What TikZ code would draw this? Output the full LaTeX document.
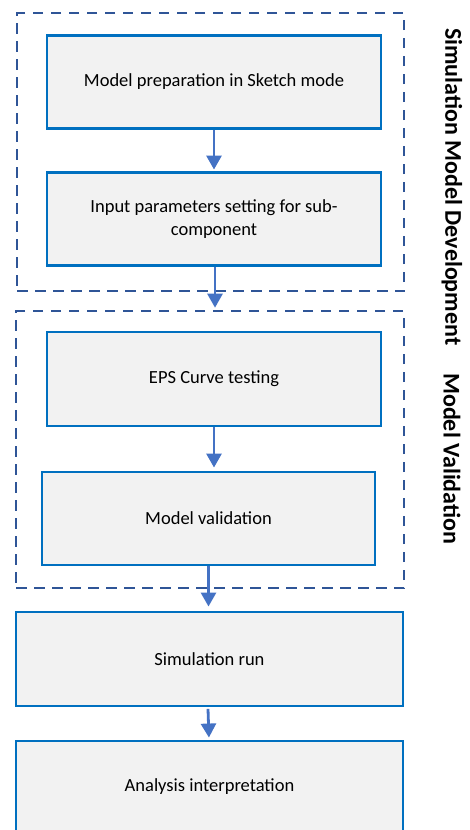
\documentclass[tikz,border=0pt]{standalone}
\usepackage{fontspec}
\setmainfont{Carlito}
\usetikzlibrary{arrows.meta,calc}
\definecolor{boxline}{HTML}{0070C0}
\definecolor{boxfill}{HTML}{F2F2F2}
\definecolor{flowline}{HTML}{4472C4}
\definecolor{groupline}{HTML}{2F5597}
\tikzset{
  stepbox/.style={draw=boxline, fill=boxfill, line width=2.9pt, inner sep=0pt,
    align=center, font=\fontsize{18.5}{22.6}\selectfont},
  groupbox/.style={draw=groupline, line width=2.6pt, dash pattern=on 10.5pt off 7.5pt,
    inner sep=0pt},
  flow/.style={draw=flowline, line width=2.8pt,
    -{Triangle[width=15pt,length=14pt]}},
  sidelabel/.style={rotate=-90, anchor=west, inner sep=0pt,
    font=\fontsize{24}{28}\selectfont\bfseries}
}
\begin{document}
\begin{tikzpicture}[x=1pt,y=-1pt]
\useasboundingbox (0,0) rectangle (469,830);
\clip (0,0) rectangle (469,830);

% dashed phase frames
\node[groupbox, minimum width=387pt, minimum height=278pt] (grp1) at (210.5,152) {};
\node[groupbox, minimum width=388pt, minimum height=277pt] (grp2) at (210,449.5) {};

% process steps
\node[stepbox, minimum width=334pt, minimum height=93pt] (prep) at (214,82) {Model preparation in Sketch mode};
\node[stepbox, minimum width=334pt, minimum height=93pt] (param) at (214,219) {Input parameters setting for sub-\\component};
\node[stepbox, minimum width=334pt, minimum height=94pt] (eps) at (214,379) {EPS Curve testing};
\node[stepbox, minimum width=333pt, minimum height=93pt] (valid) at (208.5,518.5) {Model validation};
\node[stepbox, minimum width=387pt, minimum height=94pt] (run) at (209.5,659) {Simulation run};
\node[stepbox, minimum width=387pt, minimum height=92pt] (anal) at (209.5,787) {Analysis interpretation};

% phase labels
\node[sidelabel] (lbldev) at (452,28) {Simulation Model Development};
\node[sidelabel] (lblval) at (452,373) {Model Validation};

% connectors
\draw[flow, shorten >=1.5pt] (prep.south) -- (prep.south |- param.north);
\draw[flow, shorten >=2pt] (param.south) ++(1,0) coordinate (pb) -- (pb |- grp2.north);
\draw[flow, shorten >=3pt] (eps.south) -- (eps.south |- valid.north);
\draw[flow, shorten >=4pt] (valid.south) -- (valid.south |- run.north);
\draw[flow, shorten >=2pt] ($(run.south)+(-1.5,1.5)$) -- ($(anal.north)+(-0.5,0)$);
\end{tikzpicture}
\end{document}
